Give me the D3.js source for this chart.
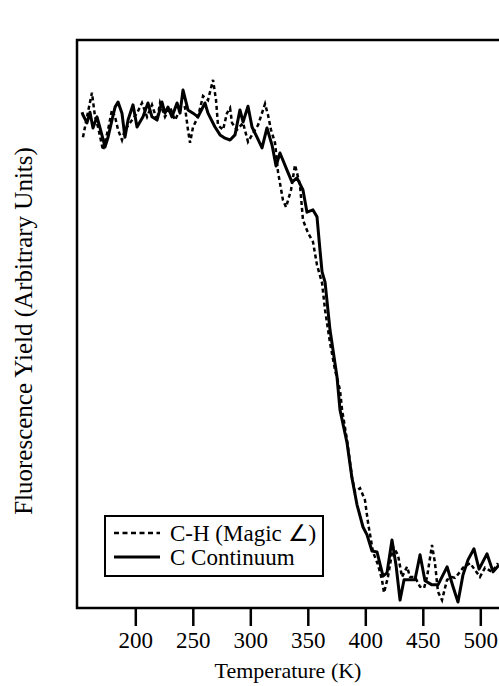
<!DOCTYPE html>
<html>
<head>
<meta charset="utf-8">
<script src="https://cdn.jsdelivr.net/npm/d3@7"></script>
<style>
	body { margin: 0; background: #fff; }
	svg text { font-family: "Liberation Serif", "Times New Roman", serif; fill: #000; }
</style>
</head>
<body>
<svg id="chart" width="499" height="686"></svg>
<script>
// C-H (Magic angle) series, dashed
const chTemp = [154.5, 158, 162.3, 165, 167.6, 171.9, 176.3, 179.7, 182.4, 185, 188.4, 191, 195.4, 201.5, 205.8, 210.2, 214.5, 218.9, 221.5, 225.8, 230.2, 234.5, 238.9, 243.2, 245.8, 247.6, 250.2, 254.5, 258.9, 263.2, 267.6, 270.2, 271.9, 276.3, 279.7, 282.4, 284.1, 288.4, 293.7, 298, 304.1, 306.7, 312.8, 315.4, 318, 321.5, 324.1, 328.4, 331.1, 335.4, 338.9, 343.2, 345.8, 350.2, 354.5, 358, 362.4, 365, 369.3, 373.7, 378, 379.8, 384.1, 388.4, 391, 395.4, 399.7, 402.4, 406.7, 411.1, 414.5, 416.3, 419.7, 424.1, 428.4, 431.9, 436.3, 438.9, 443.2, 447.6, 451.1, 453.7, 458, 460.6, 463.2, 466.7, 471.1, 475.4, 478, 482.4, 485, 491.1, 495.4, 499.7, 504.1, 510.2, 515.4];
const chYield = [0.952, 0.996, 1.048, 0.996, 0.974, 0.924, 0.968, 1.011, 0.996, 0.968, 0.946, 0.968, 0.983, 1.004, 1.026, 0.996, 1.022, 0.989, 1.026, 0.996, 1.017, 0.989, 1.011, 1.017, 0.968, 0.94, 0.974, 0.996, 1.041, 1.032, 1.076, 1.032, 0.978, 0.968, 1.004, 1.015, 0.983, 0.968, 0.983, 0.942, 0.968, 0.978, 1.024, 1.0, 0.968, 0.94, 0.877, 0.816, 0.801, 0.838, 0.892, 0.849, 0.773, 0.745, 0.726, 0.676, 0.637, 0.579, 0.508, 0.449, 0.406, 0.363, 0.298, 0.218, 0.186, 0.194, 0.168, 0.119, 0.056, 0.028, -0.004, -0.032, 0.002, 0.067, 0.05, 0.002, 0.024, 0.002, 0.002, -0.019, -0.022, 0.002, 0.071, 0.032, -0.03, -0.048, -0.004, 0.002, 0, 0.013, 0.022, 0.032, 0.017, 0.002, 0.022, 0.013, 0.032];

// C continuum series, solid
const ccTemp = [153.7, 154.5, 158, 160.6, 163.2, 166.7, 169.3, 173.7, 176.3, 179.7, 182.4, 185, 188.4, 191, 193.7, 198, 201.5, 206.7, 211, 214.5, 218.9, 223.2, 225.8, 228.4, 231.9, 236.3, 238.9, 241.5, 245.8, 250.2, 254.5, 260.6, 263.2, 269.3, 273.7, 278, 282.4, 286.7, 291, 293.7, 298, 301.5, 305.8, 310.2, 314.5, 318.9, 322.4, 325.8, 331.9, 336.3, 340.6, 345.8, 349.3, 354.5, 358, 360.6, 362.4, 365, 369.3, 375.4, 378, 384.1, 388.4, 392.8, 398, 401.5, 405.8, 410.2, 415.4, 418.9, 423.2, 426.7, 430.2, 433.7, 438.9, 443.2, 447.6, 451.9, 458, 463.2, 471.1, 476.3, 480.6, 484.9, 489.3, 494.5, 498.9, 505.8, 511.1, 516.3];
const ccYield = [1.006, 1.0, 0.983, 1.006, 0.972, 0.996, 0.972, 0.931, 0.952, 0.989, 1.017, 1.028, 1.004, 0.952, 0.989, 1.022, 0.974, 0.996, 1.026, 0.996, 0.989, 1.028, 1.004, 1.017, 0.996, 1.026, 1.004, 1.054, 1.011, 1.004, 0.996, 1.026, 1.004, 0.974, 0.957, 0.95, 0.946, 0.957, 1.011, 0.985, 1.019, 0.974, 0.952, 0.929, 0.972, 0.935, 0.89, 0.918, 0.881, 0.855, 0.864, 0.838, 0.79, 0.795, 0.78, 0.708, 0.661, 0.639, 0.536, 0.434, 0.363, 0.292, 0.216, 0.158, 0.11, 0.093, 0.058, 0.056, 0.004, 0.011, 0.082, 0.028, -0.048, -0.004, -0.004, -0.004, 0.05, -0.006, -0.015, -0.015, 0.024, -0.019, -0.052, 0.006, 0.039, 0.063, 0.019, 0.052, 0.013, 0.028];

const xTicks = [200, 250, 300, 350, 400, 450, 500];
const legendLabels = ["C-H (Magic \u2220)", "C Continuum"];

const width = 499;
const height = 686;
const margin = {
	top: 40,
	left: 77,
	bottom: 608
};
const tickLen = 18;

const svg = d3.select("#chart");

const x = d3.scaleLinear()
	.domain([150, 520])
	.range([margin.left + 0.8, margin.left + 0.8 + 370 * 1.15]);

const y = d3.scaleLinear()
	.domain([-0.065, 1.162])
	.range([margin.bottom, margin.top]);

const line = d3.line()
	.x((d) => x(d[0]))
	.y((d) => y(d[1]));

const chData = d3.zip(chTemp, chYield);
const ccData = d3.zip(ccTemp, ccYield);

// frame: left, top, bottom (right side runs off the page)
svg.append("path")
	.attr("d", `M${width + 5},${margin.top}H${margin.left}V${margin.bottom}H${width + 5}`)
	.attr("fill", "none")
	.attr("stroke", "#000")
	.attr("stroke-width", 2.5);

// bottom axis, ticks pointing down
const xAxis = d3.axisBottom(x)
	.tickValues(xTicks)
	.tickSize(tickLen)
	.tickPadding(6)
	.tickFormat(d3.format("d"));

const axisGroup = svg.append("g")
	.attr("transform", `translate(0,${margin.bottom})`)
	.call(xAxis);

axisGroup.select(".domain").remove();
axisGroup.selectAll(".tick line")
	.attr("stroke", "#000")
	.attr("stroke-width", 2.5);
axisGroup.selectAll(".tick text")
	.attr("font-size", 23);

svg.append("text")
	.attr("x", (margin.left + width) / 2)
	.attr("y", 678)
	.attr("text-anchor", "middle")
	.attr("font-size", 22)
	.text("Temperature (K)");

svg.append("text")
	.attr("transform", `translate(32,${(margin.top + margin.bottom) / 2 + 7}) rotate(-90)`)
	.attr("text-anchor", "middle")
	.attr("font-size", 25)
	.text("Fluorescence Yield (Arbitrary Units)");

// data lines
const plot = svg.append("g");

plot.append("path")
	.datum(chData)
	.attr("d", line)
	.attr("fill", "none")
	.attr("stroke", "#000")
	.attr("stroke-width", 2.5)
	.attr("stroke-dasharray", "4,3");

plot.append("path")
	.datum(ccData)
	.attr("d", line)
	.attr("fill", "none")
	.attr("stroke", "#000")
	.attr("stroke-width", 3)
	.attr("stroke-linejoin", "round");

// legend
const legend = svg.append("g")
	.attr("transform", "translate(105,516)");

legend.append("rect")
	.attr("width", 218)
	.attr("height", 60)
	.attr("fill", "#fff")
	.attr("stroke", "#000")
	.attr("stroke-width", 2);

const rows = legend.selectAll("g.row")
	.data(legendLabels)
	.join("g")
	.attr("class", "row")
	.attr("transform", (d, i) => `translate(0,${17 + i * 24})`);

rows.append("line")
	.attr("x1", 9)
	.attr("x2", 55)
	.attr("stroke", "#000")
	.attr("stroke-width", (d, i) => i === 0 ? 2.5 : 3)
	.attr("stroke-dasharray", (d, i) => i === 0 ? "5,3.5" : null);

rows.append("text")
	.attr("x", 65)
	.attr("y", 7.5)
	.attr("font-size", 23)
	.text((d) => d);
</script>
</body>
</html>
